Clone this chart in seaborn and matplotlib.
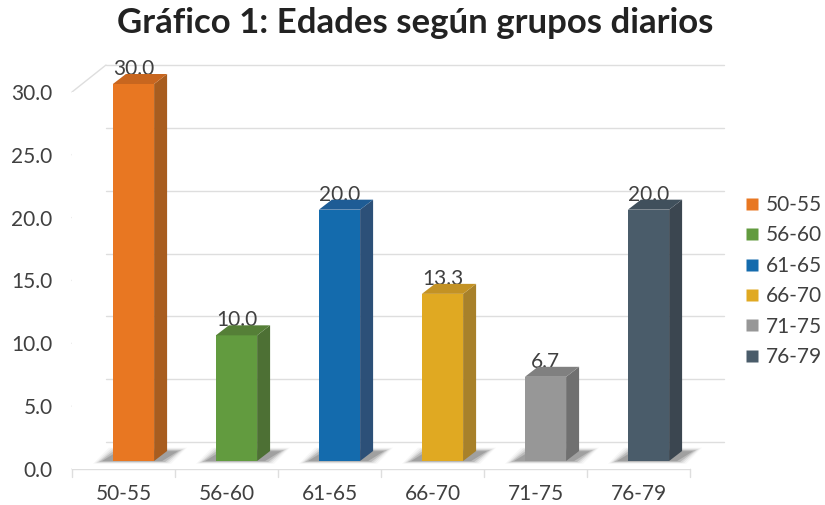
import matplotlib
matplotlib.use("Agg")
import matplotlib.pyplot as plt
import matplotlib.transforms as mtransforms
from matplotlib.patches import Polygon
from matplotlib.lines import Line2D
import seaborn as sns
import pandas as pd

# data
grupos = ["50-55", "56-60", "61-65", "66-70", "71-75", "76-79"]
porcentajes = [30.0, 10.0, 20.0, 13.3, 6.7, 20.0]
y_ticks = [0, 5, 10, 15, 20, 25, 30]

colores = ["#E87722", "#629B3F", "#146BAD", "#E0A922", "#979797", "#4A5C6A"]
lados = ["#A85D1F", "#4D7034", "#2C5078", "#A8812A", "#707070", "#3B4650"]
techos = ["#C8661F", "#557F37", "#1E5C95", "#C39224", "#808080", "#40505C"]

sns.set_style("white")
plt.rcParams["font.family"] = ["Lato", "DejaVu Sans"]
texto = "#404040"
rejilla = "#DEDEDE"

df = pd.DataFrame({"grupo": grupos, "pct": porcentajes})

fig = plt.figure(figsize=(8.25, 5.05), dpi=100)
W, H = 825, 505
ax = fig.add_axes([72 / W, (H - 469) / H, 618 / W, 377 / H])

sns.barplot(data=df, x="grupo", y="pct", hue="grupo", palette=colores,
            width=0.4, legend=False, ax=ax, zorder=3, linewidth=0)
ax.set_xlim(-0.5, 5.5)
ax.set_ylim(0, 30)

for s in ax.spines.values():
    s.set_visible(False)
ax.set_xlabel("")
ax.set_ylabel("")
ax.set_yticks(y_ticks)
ax.set_yticklabels([f"{t:.1f}" for t in y_ticks])
ax.tick_params(axis="y", length=0, pad=14, labelsize=15, labelcolor=texto)
ax.tick_params(axis="x", length=0, pad=11, labelsize=15, labelcolor=texto)

# back wall gridlines (3D look), offsets in pixels
bx, by = 34, 27
back = mtransforms.offset_copy(ax.get_yaxis_transform(), fig=fig, x=bx, y=by, units="dots")
for t in y_ticks:
    ax.plot([0, 1], [t, t], color=rejilla, lw=1, transform=back, clip_on=False, zorder=0)
    x0, y0 = ax.transData.transform((-0.5, t))
    fig.add_artist(Line2D([x0, x0 + bx], [y0, y0 + by], color=rejilla, lw=1,
                          transform=None, zorder=0))
# floor front line and category dividers
xa, ya = ax.transData.transform((-0.5, 0))
xb, _ = ax.transData.transform((5.5, 0))
fig.add_artist(Line2D([xa, xb], [ya, ya], color=rejilla, lw=1, transform=None, zorder=0))
for i in range(7):
    xd, _ = ax.transData.transform((i - 0.5, 0))
    fig.add_artist(Line2D([xd, xd], [ya, ya - 8], color=rejilla, lw=1, transform=None, zorder=0))

# shift bars to mid depth and add side / top faces
dx, dy = 10, 8
sx, sy = 13, 10
mid = mtransforms.offset_copy(ax.transData, fig=fig, x=dx, y=dy, units="dots")
for i, p in enumerate(ax.patches):
    p.set_transform(mid)
    p.set_clip_on(False)
    x0, x1 = p.get_x(), p.get_x() + p.get_width()
    h = p.get_height()
    (px0, py0) = ax.transData.transform((x0, 0)) + (dx, dy)
    (px1, py1) = ax.transData.transform((x1, h)) + (dx, dy)
    # soft shadow at the base
    for g, a in [(6, 0.03), (4, 0.05), (2, 0.08), (0, 0.12), (-3, 0.15)]:
        sh = Polygon([(px0 - 14 - g, py0 - 1 - g * 0.3), (px1 + sx - 2 + g, py0 - 1 - g * 0.3),
                      (px1 + sx + 14 + g, py0 + 11 + g * 0.4), (px0 + 2 - g, py0 + 11 + g * 0.4)],
                     closed=True, facecolor="#000000", alpha=a, edgecolor="none",
                     transform=None, zorder=1)
        fig.add_artist(sh)
    side = Polygon([(px1, py0), (px1 + sx, py0 + sy), (px1 + sx, py1 + sy), (px1, py1)],
                   closed=True, facecolor=lados[i], edgecolor="none", transform=None, zorder=4)
    top = Polygon([(px0, py1), (px1, py1), (px1 + sx, py1 + sy), (px0 + sx, py1 + sy)],
                  closed=True, facecolor=techos[i], edgecolor="none", transform=None, zorder=4)
    fig.add_artist(side)
    fig.add_artist(top)
    fig.add_artist(Polygon([(px0, py0), (px1, py0), (px1, py1), (px0, py1)], closed=True,
                           facecolor=colores[i], edgecolor="none", transform=None, zorder=3.5))
    ax.annotate(f"{porcentajes[i]:.1f}", (i, h), xytext=(dx, dy + 15),
                textcoords="offset pixels", ha="center", va="center",
                fontsize=15, color=texto, zorder=6, annotation_clip=False)

fig.suptitle("Gráfico 1: Edades según grupos diarios", x=0.503, y=1 - 7 / H,
             fontsize=25, fontweight="bold", color="#222222", va="top")

handles = [Line2D([], [], marker="s", linestyle="none", markersize=9,
                  markerfacecolor=c, markeredgecolor="none") for c in colores]
fig.legend(handles, grupos, loc="center left", bbox_to_anchor=(742 / W, 1 - 281 / H),
           frameon=False, fontsize=15, labelcolor=texto, handletextpad=0.15,
           labelspacing=0.5, handlelength=1.0, borderaxespad=0, borderpad=0)

fig.savefig("out.png", dpi=100)
